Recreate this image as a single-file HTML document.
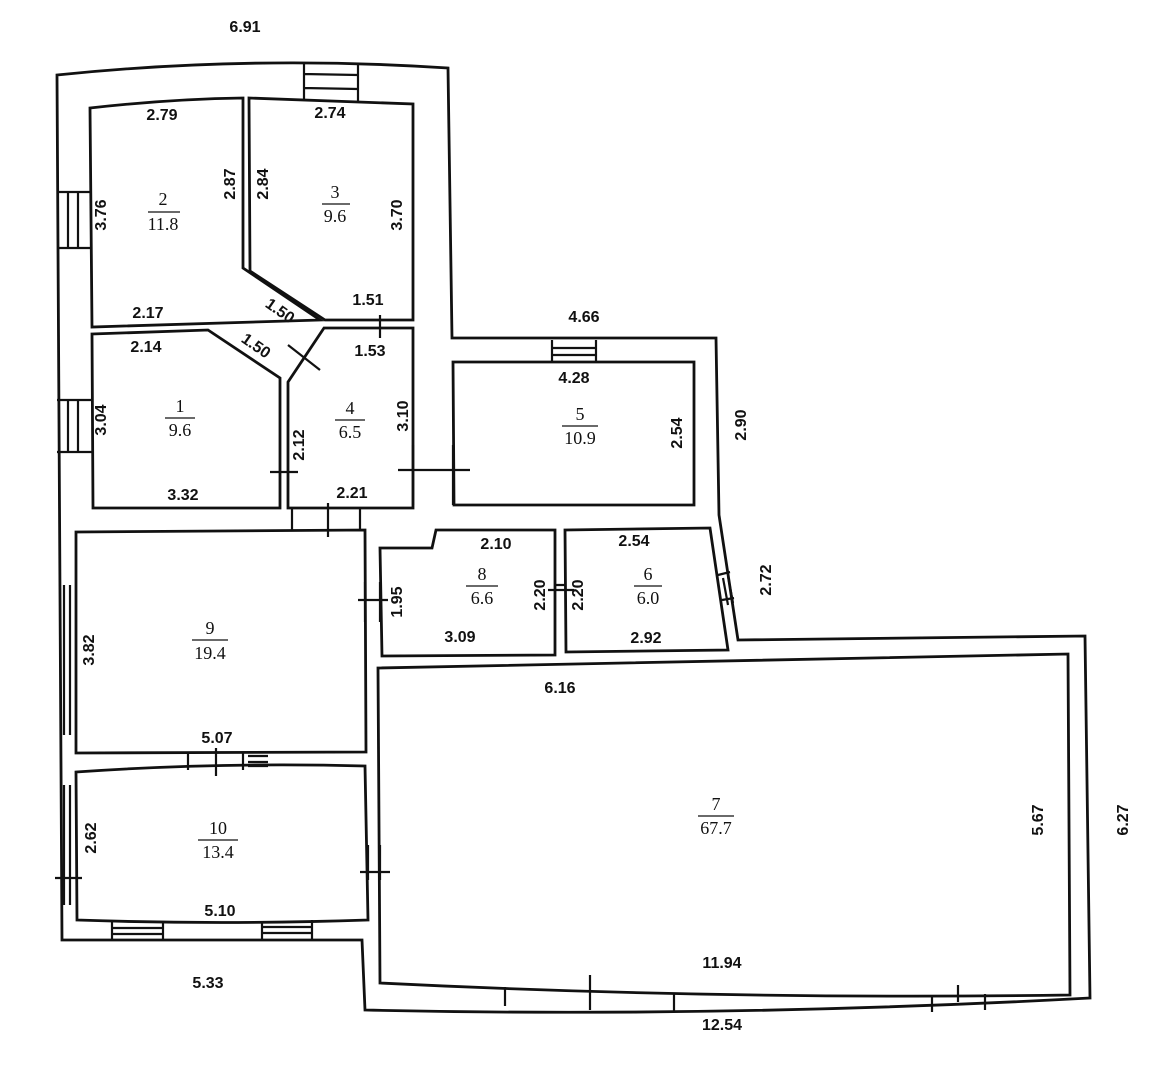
<!DOCTYPE html>
<html><head><style>
html,body{margin:0;padding:0;background:#fff;}
svg{display:block;}
text{font-family:"Liberation Sans",sans-serif;fill:#111;}
.d text{font-size:16px;font-weight:bold;}
.n text{font-family:"Liberation Serif",serif;font-size:18px;}
</style></head><body>
<svg width="1152" height="1085" viewBox="0 0 1152 1085" xmlns="http://www.w3.org/2000/svg">
<rect width="1152" height="1085" fill="#fff"/>
<g fill="none" stroke="#111" stroke-width="2.8" stroke-linejoin="miter">
<path d="M57,75 Q250,55 448,68 L452,338 L716,338 L719,515 L738,640 L1085,636 L1090,998 Q720,1018 365,1010 L362,940 L62,940 Z"/>
<path d="M90,108 Q170,99 243,98 L243,268 L320,320 L92,327 Z"/>
<path d="M249,98 L413,104 L413,320 L325,320 L250,271 Z"/>
<path d="M92,334 L208,330 L280,378 L280,508 L93,508 Z"/>
<path d="M288,382 L324,328 L413,328 L413,508 L288,508 Z"/>
<path d="M453,362 L694,362 L694,505 L454,505 Z"/>
<path d="M76,532 L365,530 L366,752 L76,753 Z"/>
<path d="M76,772 Q220,762 365,766 L368,920 Q220,925 77,920 Z"/>
<path d="M380,548 L432,548 L436,530 L555,530 L555,655 L382,656 Z"/>
<path d="M565,530 L710,528 L728,650 L566,652 Z"/>
<path d="M378,668 L1068,654 L1070,995 Q720,1000 380,983 Z"/>
</g>
<g fill="none" stroke="#111" stroke-width="2.2">
<path d="M304,62 V100 M358,64 V101 M304,74 L358,75 M304,88 L358,89"/>
<path d="M57,192 H90 M57,248 H90 M68,192 V248 M78,192 V248"/>
<path d="M57,400 H92 M57,452 H92 M68,400 V452 M78,400 V452"/>
<path d="M64,585 V735 M70,585 V735"/>
<path d="M64,785 V905 M70,785 V905 M55,878 H82"/>
<path d="M552,340 V362 M596,340 V362 M552,348 H596 M552,355 H596"/>
<path d="M292,508 V530 M360,508 V530 M328,503 V537"/>
<path d="M413,445 V505 M453,445 V505 M398,470 H470"/>
<path d="M365,582 V622 M380,582 V622 M358,600 H388"/>
<path d="M555,585 H566 M548,590 H574"/>
<path d="M368,845 V880 M380,845 V880 M360,872 H390"/>
<path d="M718,575 L730,572 M722,600 L734,598 M723,578 L728,605 M728,576 L733,603"/>
<path d="M188,753 V770 M243,752 V770 M216,748 V776 M248,756 H268 M248,762 H268 M248,766 H268"/>
<path d="M112,922 V940 M163,922 V940 M112,928 H163 M112,934 H163"/>
<path d="M262,921 V940 M312,920 V940 M262,927 H312 M262,933 H312"/>
<path d="M505,987 V1006 M674,994 V1012 M590,975 V1010 M932,995 V1012 M985,994 V1010 M958,985 V1002"/>
<path d="M288,345 L320,370"/>
<path d="M380,315 V338"/>
<path d="M270,472 H298"/>
</g>
<g class="d" text-anchor="middle">
<text x="245" y="32">6.91</text>
<text x="162" y="120">2.79</text>
<text x="330" y="118">2.74</text>
<text x="148" y="318">2.17</text>
<text x="146" y="352">2.14</text>
<text x="368" y="305">1.51</text>
<text x="370" y="356">1.53</text>
<text x="584" y="322">4.66</text>
<text x="574" y="383">4.28</text>
<text x="183" y="500">3.32</text>
<text x="352" y="498">2.21</text>
<text x="496" y="549">2.10</text>
<text x="634" y="546">2.54</text>
<text x="460" y="642">3.09</text>
<text x="646" y="643">2.92</text>
<text x="560" y="693">6.16</text>
<text x="217" y="743">5.07</text>
<text x="220" y="916">5.10</text>
<text x="208" y="988">5.33</text>
<text x="722" y="968">11.94</text>
<text x="722" y="1030">12.54</text>
<g transform="rotate(-90)">
<text x="-215" y="106">3.76</text>
<text x="-184" y="235">2.87</text>
<text x="-184" y="268">2.84</text>
<text x="-215" y="402">3.70</text>
<text x="-420" y="106">3.04</text>
<text x="-445" y="304">2.12</text>
<text x="-416" y="408">3.10</text>
<text x="-433" y="682">2.54</text>
<text x="-425" y="746">2.90</text>
<text x="-580" y="771">2.72</text>
<text x="-650" y="94">3.82</text>
<text x="-602" y="402">1.95</text>
<text x="-595" y="545">2.20</text>
<text x="-595" y="583">2.20</text>
<text x="-838" y="96">2.62</text>
<text x="-820" y="1043">5.67</text>
<text x="-820" y="1128">6.27</text>
</g>
<text x="277" y="315" transform="rotate(35 277 315)">1.50</text>
<text x="253" y="350" transform="rotate(35 253 350)">1.50</text>
</g>
<g class="n" text-anchor="middle">
<text x="163" y="205">2</text><text x="163" y="230">11.8</text>
<text x="335" y="198">3</text><text x="335" y="222">9.6</text>
<text x="180" y="412">1</text><text x="180" y="436">9.6</text>
<text x="350" y="414">4</text><text x="350" y="438">6.5</text>
<text x="580" y="420">5</text><text x="580" y="444">10.9</text>
<text x="210" y="634">9</text><text x="210" y="659">19.4</text>
<text x="482" y="580">8</text><text x="482" y="604">6.6</text>
<text x="648" y="580">6</text><text x="648" y="604">6.0</text>
<text x="218" y="834">10</text><text x="218" y="858">13.4</text>
<text x="716" y="810">7</text><text x="716" y="834">67.7</text>
</g>
<g stroke="#111" stroke-width="1.2">
<line x1="148" y1="212" x2="180" y2="212"/>
<line x1="322" y1="204" x2="350" y2="204"/>
<line x1="165" y1="418" x2="195" y2="418"/>
<line x1="335" y1="420" x2="365" y2="420"/>
<line x1="562" y1="426" x2="598" y2="426"/>
<line x1="192" y1="640" x2="228" y2="640"/>
<line x1="466" y1="586" x2="498" y2="586"/>
<line x1="634" y1="586" x2="662" y2="586"/>
<line x1="198" y1="840" x2="238" y2="840"/>
<line x1="698" y1="816" x2="734" y2="816"/>
</g>
</svg>
</body></html>
